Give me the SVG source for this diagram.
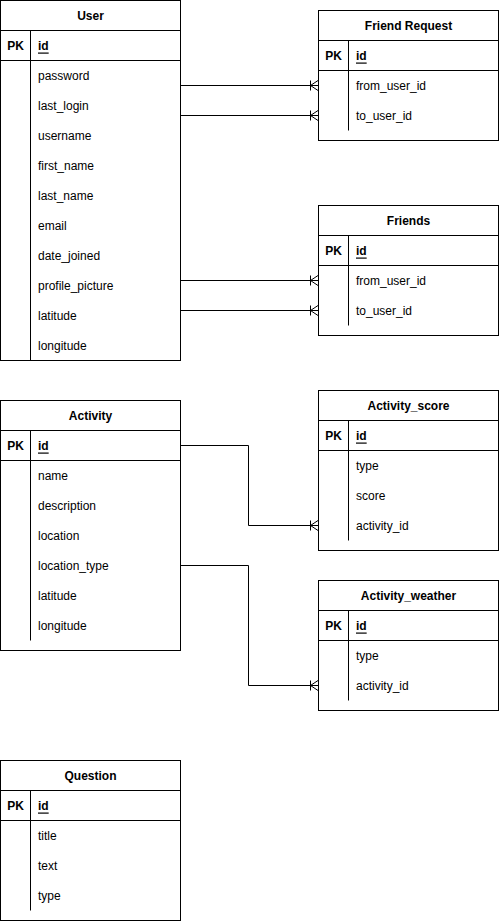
<svg xmlns="http://www.w3.org/2000/svg" width="499" height="921" viewBox="0 0 499 921">
<style>
text{font-family:"Liberation Sans",Arial,sans-serif;font-size:12px;fill:#000;dominant-baseline:central}
.t{font-weight:bold;text-anchor:middle}
.pk{font-weight:bold;text-anchor:middle}
.id{font-weight:bold;text-decoration:underline}
.box{fill:#fff;stroke:#000;stroke-width:1}
.ln{stroke:#000;stroke-width:1;fill:none}
</style>
<defs>
<marker id="many" viewBox="0 0 10 12" refX="9" refY="6" markerWidth="10" markerHeight="12" markerUnits="userSpaceOnUse" orient="auto">
<path d="M1.5,1 L1.5,11 M1.5,6 L9,1 M1.5,6 L9,11" fill="none" stroke="#000" stroke-width="1"/>
</marker>
</defs>
<g id="connectors">
<path class="ln" d="M180.5,85.5 H318" marker-end="url(#many)"/>
<path class="ln" d="M180.5,115.5 H318" marker-end="url(#many)"/>
<path class="ln" d="M180.5,280.5 H318" marker-end="url(#many)"/>
<path class="ln" d="M180.5,310.5 H318" marker-end="url(#many)"/>
<path class="ln" d="M180.5,445.5 H248.5 V525.5 H318" marker-end="url(#many)"/>
<path class="ln" d="M180.5,565.5 H248.5 V685.5 H318" marker-end="url(#many)"/>
</g>
<g id="user">
<rect class="box" x="0.5" y="0.5" width="180" height="360"/>
<path class="ln" d="M0.5,30.5 H180.5 M0.5,60.5 H180.5 M30.5,30.5 V360.5"/>
<text class="t" x="90.5" y="15.5">User</text>
<text class="pk" x="15.5" y="45.5">PK</text>
<text class="id" x="38" y="45.5">id</text>
<text x="38" y="75.5">password</text>
<text x="38" y="105.5">last_login</text>
<text x="38" y="135.5">username</text>
<text x="38" y="165.5">first_name</text>
<text x="38" y="195.5">last_name</text>
<text x="38" y="225.5">email</text>
<text x="38" y="255.5">date_joined</text>
<text x="38" y="285.5">profile_picture</text>
<text x="38" y="315.5">latitude</text>
<text x="38" y="345.5">longitude</text>
</g>
<g id="friend_request">
<rect class="box" x="318.5" y="10.5" width="180" height="130"/>
<path class="ln" d="M318.5,40.5 H498.5 M318.5,70.5 H498.5 M348.5,40.5 V130.5"/>
<text class="t" x="408.5" y="25.5">Friend Request</text>
<text class="pk" x="333.5" y="55.5">PK</text>
<text class="id" x="356" y="55.5">id</text>
<text x="356" y="85.5">from_user_id</text>
<text x="356" y="115.5">to_user_id</text>
</g>
<g id="friends">
<rect class="box" x="318.5" y="205.5" width="180" height="130"/>
<path class="ln" d="M318.5,235.5 H498.5 M318.5,265.5 H498.5 M348.5,235.5 V325.5"/>
<text class="t" x="408.5" y="220.5">Friends</text>
<text class="pk" x="333.5" y="250.5">PK</text>
<text class="id" x="356" y="250.5">id</text>
<text x="356" y="280.5">from_user_id</text>
<text x="356" y="310.5">to_user_id</text>
</g>
<g id="activity">
<rect class="box" x="0.5" y="400.5" width="180" height="250"/>
<path class="ln" d="M0.5,430.5 H180.5 M0.5,460.5 H180.5 M30.5,430.5 V640.5"/>
<text class="t" x="90.5" y="415.5">Activity</text>
<text class="pk" x="15.5" y="445.5">PK</text>
<text class="id" x="38" y="445.5">id</text>
<text x="38" y="475.5">name</text>
<text x="38" y="505.5">description</text>
<text x="38" y="535.5">location</text>
<text x="38" y="565.5">location_type</text>
<text x="38" y="595.5">latitude</text>
<text x="38" y="625.5">longitude</text>
</g>
<g id="activity_score">
<rect class="box" x="318.5" y="390.5" width="180" height="160"/>
<path class="ln" d="M318.5,420.5 H498.5 M318.5,450.5 H498.5 M348.5,420.5 V540.5"/>
<text class="t" x="408.5" y="405.5">Activity_score</text>
<text class="pk" x="333.5" y="435.5">PK</text>
<text class="id" x="356" y="435.5">id</text>
<text x="356" y="465.5">type</text>
<text x="356" y="495.5">score</text>
<text x="356" y="525.5">activity_id</text>
</g>
<g id="activity_weather">
<rect class="box" x="318.5" y="580.5" width="180" height="130"/>
<path class="ln" d="M318.5,610.5 H498.5 M318.5,640.5 H498.5 M348.5,610.5 V700.5"/>
<text class="t" x="408.5" y="595.5">Activity_weather</text>
<text class="pk" x="333.5" y="625.5">PK</text>
<text class="id" x="356" y="625.5">id</text>
<text x="356" y="655.5">type</text>
<text x="356" y="685.5">activity_id</text>
</g>
<g id="question">
<rect class="box" x="0.5" y="760.5" width="180" height="160"/>
<path class="ln" d="M0.5,790.5 H180.5 M0.5,820.5 H180.5 M30.5,790.5 V910.5"/>
<text class="t" x="90.5" y="775.5">Question</text>
<text class="pk" x="15.5" y="805.5">PK</text>
<text class="id" x="38" y="805.5">id</text>
<text x="38" y="835.5">title</text>
<text x="38" y="865.5">text</text>
<text x="38" y="895.5">type</text>
</g>
</svg>
